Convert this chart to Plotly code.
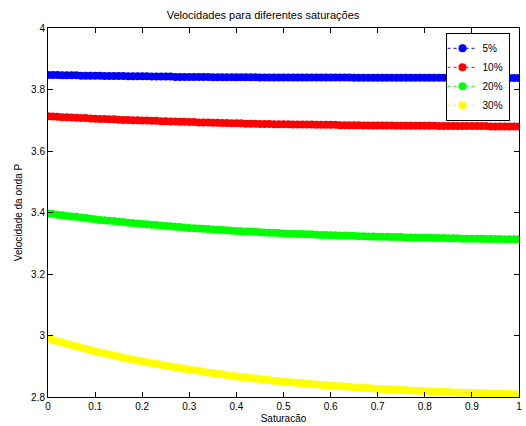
import plotly.graph_objects as go

saturacao = [i / 100 for i in range(101)]

v5 = [3.847,
      3.847, 3.847, 3.846, 3.846, 3.846, 3.846, 3.845, 3.845, 3.845, 3.845,
      3.845, 3.844, 3.844, 3.844, 3.844, 3.844, 3.843, 3.843, 3.843, 3.843,
      3.843, 3.842, 3.842, 3.842, 3.842, 3.842, 3.841, 3.841, 3.841, 3.841,
      3.841, 3.841, 3.841, 3.841, 3.840, 3.840, 3.840, 3.840, 3.840, 3.840,
      3.840, 3.840, 3.840, 3.840, 3.839, 3.839, 3.839, 3.839, 3.839, 3.839,
      3.839, 3.839, 3.839, 3.839, 3.839, 3.839, 3.839, 3.839, 3.839, 3.839,
      3.839, 3.839, 3.839, 3.839, 3.838, 3.838, 3.838, 3.838, 3.838, 3.838,
      3.838, 3.838, 3.838, 3.838, 3.838, 3.838, 3.838, 3.838, 3.838, 3.838,
      3.838, 3.838, 3.838, 3.838, 3.837, 3.837, 3.837, 3.837, 3.837, 3.837,
      3.837, 3.837, 3.837, 3.837, 3.837, 3.837, 3.837, 3.837, 3.837, 3.837]

v10 = [3.713,
       3.712, 3.711, 3.710, 3.710, 3.709, 3.708, 3.707, 3.707, 3.706, 3.705,
       3.704, 3.704, 3.703, 3.703, 3.702, 3.701, 3.701, 3.700, 3.700, 3.699,
       3.699, 3.698, 3.698, 3.697, 3.697, 3.696, 3.696, 3.695, 3.695, 3.694,
       3.694, 3.693, 3.693, 3.693, 3.692, 3.692, 3.691, 3.691, 3.690, 3.690,
       3.690, 3.689, 3.689, 3.689, 3.688, 3.688, 3.688, 3.687, 3.687, 3.687,
       3.687, 3.686, 3.686, 3.686, 3.686, 3.686, 3.685, 3.685, 3.685, 3.685,
       3.685, 3.684, 3.684, 3.684, 3.684, 3.684, 3.683, 3.683, 3.683, 3.683,
       3.683, 3.683, 3.683, 3.682, 3.682, 3.682, 3.682, 3.682, 3.682, 3.682,
       3.682, 3.682, 3.681, 3.681, 3.681, 3.681, 3.681, 3.681, 3.681, 3.681,
       3.681, 3.681, 3.681, 3.680, 3.680, 3.680, 3.680, 3.680, 3.680, 3.680]

v20 = [3.397,
       3.395, 3.393, 3.391, 3.389, 3.387, 3.386, 3.384, 3.382, 3.380, 3.378,
       3.376, 3.375, 3.373, 3.372, 3.370, 3.369, 3.367, 3.366, 3.364, 3.363,
       3.362, 3.360, 3.359, 3.358, 3.356, 3.355, 3.354, 3.353, 3.351, 3.350,
       3.349, 3.348, 3.347, 3.346, 3.345, 3.344, 3.343, 3.342, 3.341, 3.340,
       3.339, 3.338, 3.338, 3.337, 3.336, 3.335, 3.334, 3.334, 3.333, 3.332,
       3.331, 3.331, 3.330, 3.330, 3.329, 3.329, 3.328, 3.327, 3.327, 3.326,
       3.326, 3.325, 3.325, 3.324, 3.324, 3.323, 3.323, 3.322, 3.322, 3.321,
       3.321, 3.321, 3.320, 3.320, 3.320, 3.319, 3.319, 3.319, 3.318, 3.318,
       3.318, 3.317, 3.317, 3.317, 3.316, 3.316, 3.316, 3.315, 3.315, 3.315,
       3.315, 3.315, 3.314, 3.314, 3.314, 3.314, 3.313, 3.313, 3.313, 3.313]

v30 = [2.990,
       2.985, 2.981, 2.977, 2.973, 2.969, 2.965, 2.961, 2.957, 2.953, 2.949,
       2.945, 2.942, 2.938, 2.935, 2.932, 2.928, 2.925, 2.922, 2.919, 2.916,
       2.913, 2.910, 2.908, 2.905, 2.902, 2.900, 2.897, 2.894, 2.892, 2.889,
       2.887, 2.885, 2.882, 2.880, 2.878, 2.876, 2.874, 2.871, 2.869, 2.867,
       2.865, 2.864, 2.862, 2.860, 2.858, 2.857, 2.855, 2.853, 2.852, 2.850,
       2.849, 2.847, 2.846, 2.845, 2.843, 2.842, 2.841, 2.840, 2.838, 2.837,
       2.836, 2.835, 2.834, 2.833, 2.832, 2.831, 2.830, 2.829, 2.828, 2.827,
       2.826, 2.825, 2.825, 2.824, 2.823, 2.822, 2.821, 2.821, 2.820, 2.819,
       2.818, 2.818, 2.817, 2.817, 2.816, 2.815, 2.815, 2.814, 2.814, 2.813,
       2.813, 2.812, 2.812, 2.811, 2.811, 2.811, 2.810, 2.810, 2.809, 2.809]

series_names = ["5%", "10%", "20%", "30%"]
series_values = [v5, v10, v20, v30]
series_colors = ["#0000ff", "#ff0000", "#00ff00", "#ffff00"]

x_ticks = [0, 0.1, 0.2, 0.3, 0.4, 0.5, 0.6, 0.7, 0.8, 0.9, 1]
x_tick_labels = ["0", "0.1", "0.2", "0.3", "0.4", "0.5", "0.6", "0.7", "0.8", "0.9", "1"]
y_ticks = [2.8, 3.0, 3.2, 3.4, 3.6, 3.8, 4.0]
y_tick_labels = ["2.8", "3", "3.2", "3.4", "3.6", "3.8", "4"]

fig = go.Figure()
for name, vals, col in zip(series_names, series_values, series_colors):
    fig.add_trace(go.Scatter(
        x=saturacao, y=vals, name=name, mode="lines+markers",
        line=dict(color=col, width=1, dash="dot"),
        marker=dict(color=col, size=8, line=dict(width=0)),
    ))

font_family = "Liberation Sans, Arial, Helvetica, sans-serif"
axis_common = dict(
    showline=True, linecolor="black", linewidth=1, mirror="ticks",
    ticks="inside", ticklen=5, tickcolor="black", tickwidth=1,
    showgrid=False, zeroline=False,
    tickfont=dict(family=font_family, size=10, color="black"),
)

fig.update_layout(
    width=526, height=426,
    margin=dict(l=48, r=4, t=28, b=26),
    paper_bgcolor="white", plot_bgcolor="white",
    title=dict(text="Velocidades para diferentes saturações",
               x=0.5, xanchor="center", y=1 - 15 / 426, yanchor="middle",
               font=dict(family=font_family, size=11, color="black")),
    xaxis=dict(range=[0, 1], tickvals=x_ticks, ticktext=x_tick_labels,
               title=dict(text="Saturacão", standoff=3,
                          font=dict(family=font_family, size=10, color="black")),
               **axis_common),
    yaxis=dict(range=[2.8, 4.0], tickvals=y_ticks, ticktext=y_tick_labels,
               title=dict(text="Velocidade da onda P", standoff=6,
                          font=dict(family=font_family, size=10, color="black")),
               **axis_common),
    legend=dict(x=0.844, y=0.987, xanchor="left", yanchor="top",
                bgcolor="white", bordercolor="black", borderwidth=1,
                font=dict(family=font_family, size=10, color="black"),
                tracegroupgap=0, itemwidth=30, indentation=-4),
    showlegend=True,
)

fig.write_html("out.html")
